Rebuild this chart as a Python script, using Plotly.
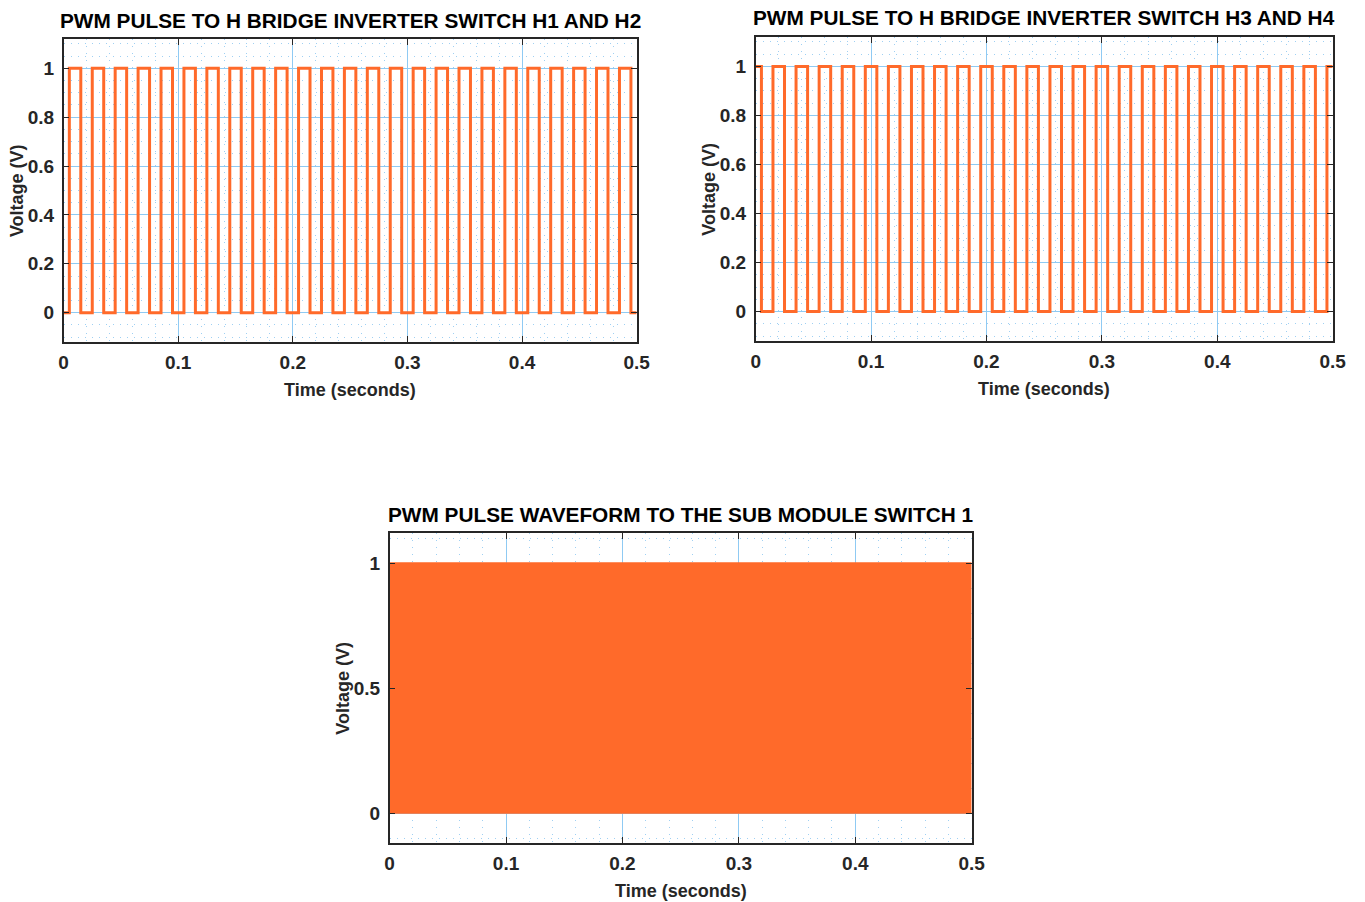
import plotly.graph_objects as go

# ---------------- data ----------------
# switching instants (s) of the gate pulses of the H-bridge (50 Hz square pulses)
switch_time_s = [0.000, 0.005, 0.015, 0.025, 0.035, 0.045, 0.055, 0.065, 0.075, 0.085,
                 0.095, 0.105, 0.115, 0.125, 0.135, 0.145, 0.155, 0.165, 0.175, 0.185,
                 0.195, 0.205, 0.215, 0.225, 0.235, 0.245, 0.255, 0.265, 0.275, 0.285,
                 0.295, 0.305, 0.315, 0.325, 0.335, 0.345, 0.355, 0.365, 0.375, 0.385,
                 0.395, 0.405, 0.415, 0.425, 0.435, 0.445, 0.455, 0.465, 0.475, 0.485,
                 0.495, 0.500]
# gate state (V) held from each switching instant
h12_state = [0, 1, 0, 1, 0, 1, 0, 1, 0, 1,
             0, 1, 0, 1, 0, 1, 0, 1, 0, 1,
             0, 1, 0, 1, 0, 1, 0, 1, 0, 1,
             0, 1, 0, 1, 0, 1, 0, 1, 0, 1,
             0, 1, 0, 1, 0, 1, 0, 1, 0, 1,
             0, 0]
h34_state = [1, 0, 1, 0, 1, 0, 1, 0, 1, 0,
             1, 0, 1, 0, 1, 0, 1, 0, 1, 0,
             1, 0, 1, 0, 1, 0, 1, 0, 1, 0,
             1, 0, 1, 0, 1, 0, 1, 0, 1, 0,
             1, 0, 1, 0, 1, 0, 1, 0, 1, 0,
             1, 1]
# sub-module switch 1: high-frequency PWM, visible only as a solid band between 0 and 1
sm1_time_s = [0.0, 0.5]
sm1_low_v = [0.0, 0.0]
sm1_high_v = [1.0, 1.0]

titles = ["PWM PULSE TO H BRIDGE INVERTER SWITCH H1 AND H2",
          "PWM PULSE TO H BRIDGE INVERTER SWITCH H3 AND H4",
          "PWM PULSE WAVEFORM TO THE SUB MODULE SWITCH 1"]
x_title = "Time (seconds)"
y_title = "Voltage (V)"
x_ticks = [0, 0.1, 0.2, 0.3, 0.4, 0.5]
x_ticktext = ["0", "0.1", "0.2", "0.3", "0.4", "0.5"]

# ---------------- style ----------------
W, H = 1365, 902
ORANGE = "#ff6a2a"
AX = "#262626"
GRID = "#8fcaf3"
MINOR = "#9fd0f3"
FONT = "Liberation Sans"

def fx(px):
    return ((px - 5.4) / 0.986) / W

def fy(py):
    return 1 - py / H

# plot boxes in pixels: left, top, right, bottom
boxes = [(64, 39, 637, 342), (756, 37, 1333, 341), (390, 533, 972, 843)]

fig = go.Figure()

fig.add_trace(go.Scatter(x=switch_time_s, y=h12_state, mode="lines", line_shape="hv",
                         line=dict(color=ORANGE, width=3), xaxis="x", yaxis="y",
                         showlegend=False))
fig.add_trace(go.Scatter(x=switch_time_s, y=h34_state, mode="lines", line_shape="hv",
                         line=dict(color=ORANGE, width=3), xaxis="x2", yaxis="y2",
                         showlegend=False))
fig.add_trace(go.Scatter(x=sm1_time_s, y=sm1_low_v, mode="lines",
                         line=dict(color=ORANGE, width=1.5), xaxis="x3", yaxis="y3",
                         showlegend=False))
fig.add_trace(go.Scatter(x=sm1_time_s, y=sm1_high_v, mode="lines", fill="tonexty",
                         fillcolor=ORANGE, line=dict(color=ORANGE, width=1.5),
                         xaxis="x3", yaxis="y3", showlegend=False))

tickfont = dict(family=FONT, size=19, color=AX, weight="bold")

layout = dict(width=W, height=H, margin=dict(l=0, r=0, t=0, b=0),
              paper_bgcolor="white", plot_bgcolor="white", showlegend=False)

annotations = []
for i, (l, t, r, b) in enumerate(boxes):
    sfx = "" if i == 0 else str(i + 1)
    ydt = 0.2 if i < 2 else 0.5
    ymn = 0.05 if i < 2 else 0.1
    xa = dict(domain=[fx(l), fx(r)], anchor="y" + sfx, range=[0, 0.5],
              tickvals=x_ticks, ticktext=x_ticktext,
              showgrid=True, gridcolor=GRID, gridwidth=1, zeroline=False,
              showline=True, linecolor=AX, linewidth=1.5, mirror="ticks",
              ticks="inside", ticklen=6, tickwidth=1, tickcolor=AX,
              tickfont=tickfont, ticklabelstandoff=2,
              minor=dict(dtick=0.02, tick0=0, showgrid=True, gridcolor=MINOR,
                         griddash="1px,6px", gridwidth=1, ticks=""))
    ya = dict(domain=[fy(b), fy(t)], anchor="x" + sfx, range=[-0.12, 1.12],
              dtick=ydt, tick0=0,
              showgrid=True, gridcolor=GRID, gridwidth=1, zeroline=False,
              showline=True, linecolor=AX, linewidth=1.5, mirror="ticks",
              ticks="inside", ticklen=6, tickwidth=1, tickcolor=AX,
              tickfont=tickfont, ticklabelstandoff=4,
              minor=dict(dtick=ymn, tick0=0, showgrid=True, gridcolor=MINOR,
                         griddash="1px,6px", gridwidth=1, ticks=""))
    layout["xaxis" + sfx] = xa
    layout["yaxis" + sfx] = ya
    cx = (l + r) / 2
    annotations.append(dict(text=titles[i], x=fx(cx), y=fy(t - 19), xref="paper", yref="paper",
                            xanchor="center", yanchor="middle", showarrow=False,
                            font=dict(family=FONT, size=20.8, color="black", weight="bold")))
    annotations.append(dict(text=x_title, x=fx(cx), y=fy(b + 48), xref="paper", yref="paper",
                            xanchor="center", yanchor="middle", showarrow=False,
                            font=dict(family=FONT, size=18, color=AX, weight="bold")))
    annotations.append(dict(text=y_title, x=fx(l - 47), y=fy((t + b) / 2), xref="paper",
                            yref="paper", xanchor="center", yanchor="middle", textangle=-90,
                            showarrow=False,
                            font=dict(family=FONT, size=18, color=AX, weight="bold")))

layout["annotations"] = annotations
fig.update_layout(**layout)
fig.write_html("out.html")
